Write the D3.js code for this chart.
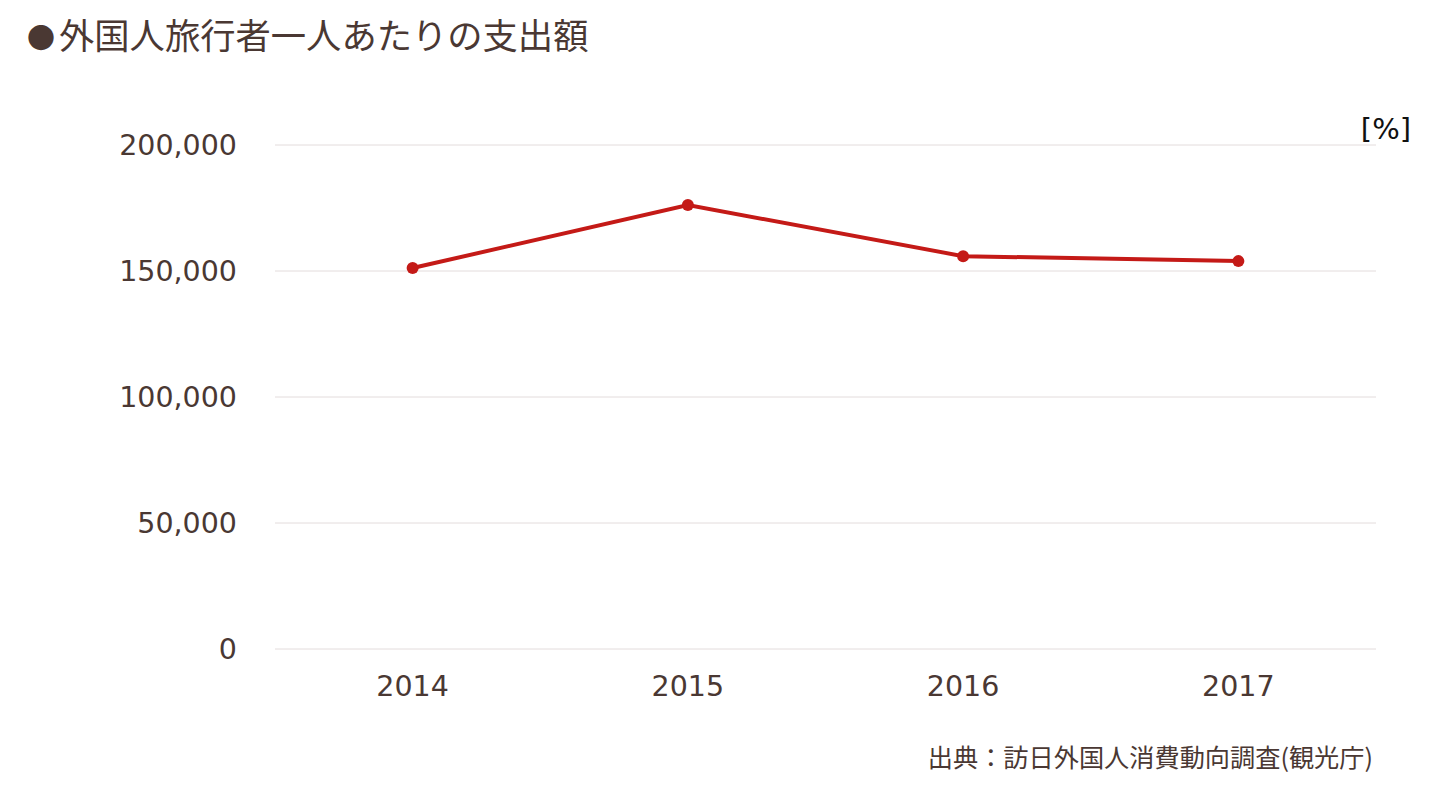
<!DOCTYPE html>
<html><head><meta charset="utf-8">
<script src="https://cdn.jsdelivr.net/npm/d3@7"></script>
<style>html,body{margin:0;padding:0;background:#fff;}</style>
</head><body>
<svg id="chart" width="1433" height="788"></svg>
<script>
const years = ["2014", "2015", "2016", "2017"];
const spending = [151174, 176167, 155896, 153921];
const yTicks = [0, 50000, 100000, 150000, 200000];
const titleBullet = "●";
const titleText = "外国人旅行者一人あたりの支出額";
const unitText = "[%]";
const sourceText = "出典：訪日外国人消費動向調査(観光庁)";

const svg = d3.select("#chart");
const textColor = "#4a3833";
const latin = "'DejaVu Sans', Verdana, sans-serif";
const cjk = "'Noto Sans CJK JP', sans-serif";

const x = d3.scaleBand().domain(years).range([275, 1376]).padding(0);
const y = d3.scaleLinear().domain([0, 200000]).range([649, 145]);

// gridlines
svg.append("g").selectAll("line").data(yTicks).join("line")
  .attr("x1", 275).attr("x2", 1376)
  .attr("y1", d => y(d)).attr("y2", d => y(d))
  .attr("stroke", "#e3dcdc").attr("stroke-width", 1);

// y axis labels
const yAxis = svg.append("g").attr("transform", "translate(237,0)")
  .call(d3.axisLeft(y).tickValues(yTicks).tickSize(0).tickPadding(0).tickFormat(d3.format(",")));
yAxis.select(".domain").remove();
yAxis.selectAll("text").attr("fill", textColor).style("font-family", latin).style("font-size", "28.5px");

// x axis labels
const xAxis = svg.append("g").attr("transform", "translate(0,676)")
  .call(d3.axisBottom(x).tickSize(0).tickPadding(0));
xAxis.select(".domain").remove();
xAxis.selectAll("text").attr("fill", textColor).style("font-family", latin).style("font-size", "28.5px").attr("dy", "0.71em");

const data = years.map((yr, i) => ({yr, v: spending[i]}));
const cx = d => x(d.yr) + x.bandwidth() / 2;

svg.append("path").datum(data)
  .attr("fill", "none").attr("stroke", "#c41a17").attr("stroke-width", 4)
  .attr("d", d3.line().x(cx).y(d => y(d.v)));

svg.append("g").selectAll("circle").data(data).join("circle")
  .attr("cx", cx).attr("cy", d => y(d.v)).attr("r", 6).attr("fill", "#c41a17");

const title = svg.append("text").attr("y", 49)
  .attr("fill", textColor).style("font-family", cjk);
title.append("tspan").attr("x", 27).style("font-size", "28px").text(titleBullet);
title.append("tspan").attr("x", 59).style("font-size", "35.3px").text(titleText);

svg.append("text").attr("x", 1411).attr("y", 139).attr("text-anchor", "end")
  .attr("fill", "#111").style("font-family", latin).style("font-size", "29px")
  .text(unitText);

svg.append("text").attr("x", 1373).attr("y", 767).attr("text-anchor", "end")
  .attr("fill", textColor).style("font-family", cjk).style("font-size", "25.2px")
  .text(sourceText);
</script>
</body></html>
